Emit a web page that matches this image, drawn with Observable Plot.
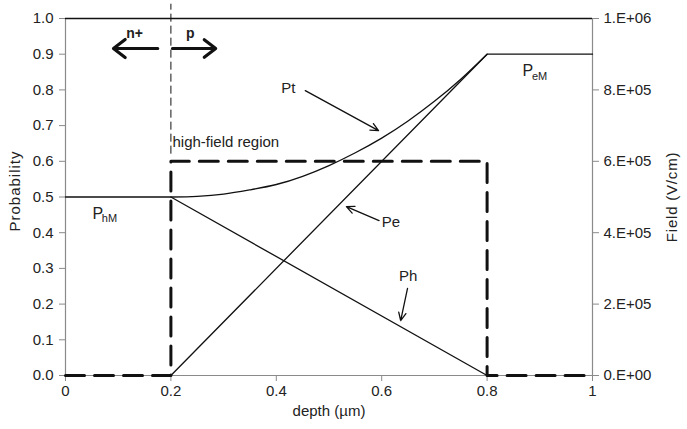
<!DOCTYPE html>
<html><head><meta charset="utf-8">
<script src="https://cdn.jsdelivr.net/npm/d3@7"></script>
<script src="https://cdn.jsdelivr.net/npm/@observablehq/plot@0.6"></script>
<style>body{margin:0;background:#fff} svg{font-family:"Liberation Sans",Arial,sans-serif}</style>
</head><body><div id="chart"></div>
<script>
// ---- data ----
const xTicks = [0, 0.2, 0.4, 0.6, 0.8, 1];
const yTicks = [0, 0.1, 0.2, 0.3, 0.4, 0.5, 0.6, 0.7, 0.8, 0.9, 1.0];
const fieldTickValues = [0, 2e5, 4e5, 6e5, 8e5, 1e6];
const fieldTickLabels = ["0.E+00", "2.E+05", "4.E+05", "6.E+05", "8.E+05", "1.E+06"];
const fieldMax = 1e6;

const peDepth = [0.2, 0.8, 1.0];
const peValue = [0, 0.9, 0.9];
const phDepth = [0, 0.2, 0.8];
const phValue = [0.5, 0.5, 0];
const ptDepth = [0.2, 0.25, 0.3, 0.35, 0.4, 0.45, 0.5, 0.55, 0.6, 0.65, 0.7, 0.75, 0.8];
const ptValue = [0.5, 0.502, 0.508, 0.52, 0.535, 0.558, 0.588, 0.624, 0.665, 0.713, 0.768, 0.83, 0.9];
const fieldDepth = [0, 0.2, 0.2, 0.8, 0.8, 1.0];
const fieldValue = [0, 0, 6e5, 6e5, 0, 0];
const junctionDepth = 0.2;

// annotations (data units)
const curveLabelText = ["Pt"];
const curveLabelX = [0.423];
const curveLabelY = [0.805];
const sideLabelText = ["Pe", "Ph", "high-field region"];
const sideLabelX = [0.6, 0.633, 0.203];
const sideLabelY = [0.43, 0.277, 0.653];
const pointerX1 = [0.455, 0.595, 0.649];
const pointerY1 = [0.798, 0.434, 0.244];
const pointerX2 = [0.594, 0.533, 0.636];
const pointerY2 = [0.686, 0.473, 0.154];
const regionText = ["n+", "p"];
const regionX = [0.131, 0.237];
const regionY = [0.958, 0.958];
const dirX1 = [0.175, 0.203];
const dirX2 = [0.091, 0.285];
const dirY = [0.916, 0.916];
const mainP = ["P", "P"];
const subText = ["hM", "eM"];
const mainX = [0.051, 0.867];
const mainY = [0.454, 0.854];
const subX = [0.069, 0.885];
const subY = [0.44, 0.8375];

// ---- build tables ----
const pe = peDepth.map((x, i) => ({x, y: peValue[i]}));
const ph = phDepth.map((x, i) => ({x, y: phValue[i]}));
const pt = ptDepth.map((x, i) => ({x, y: ptValue[i]}));
const field = fieldDepth.map((x, i) => ({x, f: fieldValue[i]}));
const curveLabels = curveLabelText.map((t, i) => ({t, x: curveLabelX[i], y: curveLabelY[i]}));
const sideLabels = sideLabelText.map((t, i) => ({t, x: sideLabelX[i], y: sideLabelY[i]}));
const pointers = pointerX1.map((x1, i) => ({x1, y1: pointerY1[i], x2: pointerX2[i], y2: pointerY2[i]}));
const regions = regionText.map((t, i) => ({t, x: regionX[i], y: regionY[i]}));
const dirs = dirX1.map((x1, i) => ({x1, x2: dirX2[i], y: dirY[i]}));
const mains = mainP.map((t, i) => ({t, x: mainX[i], y: mainY[i]}));
const subs = subText.map((t, i) => ({t, x: subX[i], y: subY[i]}));

const ink = "#222";
const axisGray = "#8a8a8a";

const chart = Plot.plot({
  width: 687,
  height: 429,
  marginLeft: 65,
  marginRight: 95,
  marginTop: 18,
  marginBottom: 54,
  style: {fontFamily: '"Liberation Sans", Arial, sans-serif', color: ink, background: "#fff"},
  x: {domain: [0, 1]},
  y: {domain: [0, 1]},
  marks: [
    Plot.axisX({ticks: xTicks, tickFormat: d3.format("~g"), tickSize: 6, stroke: axisGray, tickPadding: 4,
      label: "depth (\u00b5m)", labelAnchor: "center", labelArrow: "none", labelOffset: 40, fill: ink}),
    Plot.axisY({ticks: yTicks, tickFormat: d3.format(".1f"), tickSize: 6, stroke: axisGray, tickPadding: 6,
      label: "Probability", labelAnchor: "center", labelArrow: "none", labelOffset: 56, fill: ink}),
    Plot.axisY({anchor: "right", ticks: fieldTickValues.map(v => v / fieldMax),
      tickFormat: (d, i) => fieldTickLabels[i], tickSize: 6, stroke: axisGray, tickPadding: 5,
      label: "Field (V/cm)", labelAnchor: "center", labelArrow: "none", labelOffset: 84, fill: ink}),
    Plot.ruleX([0], {stroke: axisGray, strokeWidth: 1.2}),
    Plot.ruleX([1], {stroke: axisGray, strokeWidth: 1.2}),
    Plot.ruleY([0], {stroke: axisGray, strokeWidth: 1.2}),
    Plot.ruleY([1], {stroke: "#111", strokeWidth: 1.3}),
    Plot.ruleX([junctionDepth], {y1: 0.62, y2: 1.04, stroke: "#111", strokeWidth: 1, strokeDasharray: "8,4"}),
    Plot.line(field, {x: "x", y: d => d.f / fieldMax, stroke: "#111", strokeWidth: 3, strokeDasharray: "19,10"}),
    Plot.line(ph, {x: "x", y: "y", stroke: "#111", strokeWidth: 1.3}),
    Plot.line(pe, {x: "x", y: "y", stroke: "#111", strokeWidth: 1.3}),
    Plot.line(pt, {x: "x", y: "y", stroke: "#111", strokeWidth: 1.3, curve: "natural"}),
    Plot.arrow(pointers, {x1: "x1", y1: "y1", x2: "x2", y2: "y2", stroke: "#111", strokeWidth: 1.3, headLength: 10, headAngle: 50}),
    Plot.arrow(dirs, {x1: "x1", y1: "y", x2: "x2", y2: "y", stroke: "#111", strokeWidth: 3.2, headLength: 8, headAngle: 75}),
    Plot.text(curveLabels, {x: "x", y: "y", text: "t", textAnchor: "middle", fontSize: 15, fill: ink}),
    Plot.text(sideLabels, {x: "x", y: "y", text: "t", textAnchor: "start", fontSize: 15, fill: ink}),
    Plot.text(regions, {x: "x", y: "y", text: "t", fontSize: 14, fontWeight: "bold", fill: ink}),
    Plot.text(mains, {x: "x", y: "y", text: "t", textAnchor: "start", fontSize: 16, fill: ink}),
    Plot.text(subs, {x: "x", y: "y", text: "t", textAnchor: "start", fontSize: 11, fill: ink})
  ]
});
const svg = d3.select(chart);
svg.selectAll('g[aria-label$="tick label"] text').style("font-size", "15px");
svg.selectAll('g[aria-label$="axis label"] text').style("font-size", "15px");
svg.selectAll('g[aria-label="y-axis label"] text').each(function() {
  const t = d3.select(this);
  if (this.textContent === "Probability") t.style("letter-spacing", "1px").attr("dx", 6);
  else t.style("letter-spacing", "0.8px");
});
document.getElementById("chart").appendChild(chart);
</script>
</body></html>
